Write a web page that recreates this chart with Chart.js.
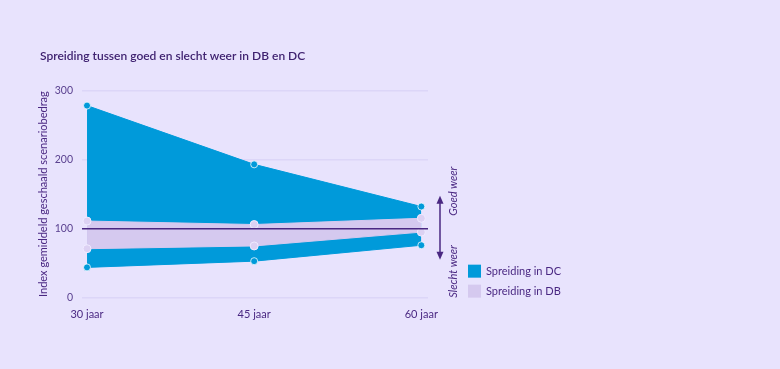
<!DOCTYPE html>
<html>
<head>
    <title>Spreiding goed en slecht weer</title>
    <script src="https://cdn.jsdelivr.net/npm/chart.js"></script>
    <style>
        body { margin: 0; background: #E8E3FD; }
        #wrap { width: 780px; height: 369px; position: relative; }
    </style>
</head>
<body>
<div id="wrap"><canvas id="chart"></canvas></div>
<script>
    // data
    var years = [30, 45, 60];
    var dcHigh = [278, 193, 132];
    var dcLow = [44, 53, 76];
    var dbHigh = [111, 106, 115];
    var dbLow = [71, 75, 95];
    var baseline = 100;
    var legendLabels = ['Spreiding in DC', 'Spreiding in DB'];

    var blue = '#009ADA';
    var lilac = '#D5C9EF';
    var purple = '#4A2882';
    var font = 'Lato';

    function pts(values) {
        return years.map(function (y, i) { return { x: y, y: values[i] }; });
    }

    // reference line, arrow, rotated labels and legend
    var extras = {
        id: 'extras',
        afterDatasetsDraw: function (chart) {
            var ctx = chart.ctx;
            var area = chart.chartArea;
            var y0 = chart.scales.y.getPixelForValue(baseline);
            ctx.save();
            ctx.strokeStyle = purple;
            ctx.lineWidth = 1.5;
            ctx.beginPath();
            ctx.moveTo(area.left, y0);
            ctx.lineTo(area.right, y0);
            ctx.stroke();
            ctx.restore();
        },
        afterDraw: function (chart) {
            var ctx = chart.ctx;
            var area = chart.chartArea;
            var y0 = chart.scales.y.getPixelForValue(baseline);
            var ax = area.right + 12;
            ctx.save();
            // double arrow
            ctx.strokeStyle = purple;
            ctx.fillStyle = purple;
            ctx.lineWidth = 1.5;
            ctx.beginPath();
            ctx.moveTo(ax, y0 - 28);
            ctx.lineTo(ax, y0 + 27);
            ctx.stroke();
            ctx.beginPath();
            ctx.moveTo(ax, y0 - 33);
            ctx.lineTo(ax - 3.5, y0 - 25);
            ctx.lineTo(ax + 3.5, y0 - 25);
            ctx.fill();
            ctx.beginPath();
            ctx.moveTo(ax, y0 + 31);
            ctx.lineTo(ax - 3.5, y0 + 23);
            ctx.lineTo(ax + 3.5, y0 + 23);
            ctx.fill();

            // rotated labels
            ctx.font = 'italic 11px ' + font;
            ctx.textBaseline = 'middle';
            ctx.textAlign = 'left';
            ctx.save();
            ctx.translate(ax + 13, y0 - 13);
            ctx.rotate(-Math.PI / 2);
            ctx.fillText('Goed weer', 0, 0);
            ctx.restore();
            ctx.save();
            ctx.translate(ax + 13, area.bottom);
            ctx.rotate(-Math.PI / 2);
            ctx.fillText('Slecht weer', 0, 0);
            ctx.restore();

            // legend
            var lx = area.right + 40;
            var colors = [blue, lilac];
            ctx.font = '11px ' + font;
            legendLabels.forEach(function (txt, i) {
                var ly = y0 + 36 + i * 20;
                ctx.fillStyle = colors[i];
                ctx.fillRect(lx, ly, 13, 13);
                ctx.fillStyle = purple;
                ctx.fillText(txt, lx + 18, ly + 7);
            });
            ctx.restore();
        }
    };

    var ctx = document.getElementById('chart').getContext('2d');
    var chart = new Chart(ctx, {
        type: 'line',
        data: {
            datasets: [
                {
                    label: 'DB hoog',
                    data: pts(dbHigh),
                    borderColor: lilac,
                    backgroundColor: lilac,
                    borderWidth: 1,
                    fill: '+1',
                    pointBackgroundColor: '#DCD1F3',
                    pointBorderColor: '#EFEAFF',
                    pointRadius: 4,
                    pointBorderWidth: 1
                },
                {
                    label: 'DB laag',
                    data: pts(dbLow),
                    borderColor: lilac,
                    borderWidth: 1,
                    fill: false,
                    pointBackgroundColor: '#DCD1F3',
                    pointBorderColor: '#EFEAFF',
                    pointRadius: 4,
                    pointBorderWidth: 1
                },
                {
                    label: 'DC hoog',
                    data: pts(dcHigh),
                    borderColor: blue,
                    backgroundColor: blue,
                    borderWidth: 1,
                    fill: '+1',
                    pointBackgroundColor: blue,
                    pointBorderColor: 'rgba(255,255,255,0.75)',
                    pointRadius: 3.5,
                    pointBorderWidth: 1
                },
                {
                    label: 'DC laag',
                    data: pts(dcLow),
                    borderColor: blue,
                    borderWidth: 1,
                    fill: false,
                    pointBackgroundColor: blue,
                    pointBorderColor: 'rgba(255,255,255,0.75)',
                    pointRadius: 3.5,
                    pointBorderWidth: 1
                }
            ]
        },
        options: {
            responsive: true,
            maintainAspectRatio: false,
            animation: false,
            layout: { padding: { left: 40, right: 352, top: 49, bottom: 46 } },
            plugins: {
                legend: { display: false },
                tooltip: { enabled: false },
                filler: { drawTime: 'beforeDatasetsDraw' },
                title: {
                    display: true,
                    text: 'Spreiding tussen goed en slecht weer in DB en DC',
                    align: 'start',
                    color: '#3F2270',
                    font: { family: font, size: 12, weight: '600' },
                    padding: { top: 0, bottom: 27 }
                }
            },
            scales: {
                x: {
                    type: 'linear',
                    min: 29.55,
                    max: 60.6,
                    grid: { display: false },
                    border: { display: false },
                    afterBuildTicks: function (scale) {
                        scale.ticks = years.map(function (v) { return { value: v }; });
                    },
                    ticks: {
                        color: purple,
                        font: { family: font, size: 11 },
                        padding: 2,
                        maxRotation: 0,
                        callback: function (v) { return v + ' jaar'; }
                    }
                },
                y: {
                    min: 0,
                    max: 300,
                    z: 1,
                    border: { display: false },
                    grid: { color: 'rgba(208,201,243,0.5)', lineWidth: 1.5, drawTicks: false },
                    afterFit: function (scale) { scale.width = 42; },
                    ticks: {
                        stepSize: 100,
                        color: '#5B4290',
                        font: { family: font, size: 10.5 },
                        padding: 9
                    },
                    title: {
                        display: true,
                        text: 'Index gemiddeld geschaald scenariobedrag',
                        color: purple,
                        font: { family: font, size: 11 },
                        padding: { top: -3, bottom: 0 }
                    }
                }
            }
        },
        plugins: [extras]
    });
</script>
</body>
</html>
